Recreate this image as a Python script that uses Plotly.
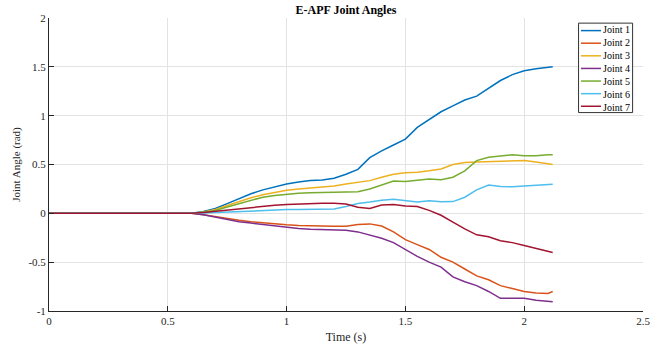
import plotly.graph_objects as go

# ---- data ----
time_s = [0, 0.6, 0.65, 0.7, 0.75, 0.8, 0.85, 0.9, 0.95, 1.0, 1.05, 1.1, 1.15, 1.2, 1.25, 1.3,
          1.35, 1.4, 1.45, 1.5, 1.55, 1.6, 1.65, 1.7, 1.75, 1.8, 1.85, 1.9, 1.95, 2.0, 2.05, 2.1, 2.12]

joint1 = [0, 0, 0.02, 0.05, 0.10, 0.15, 0.20, 0.24, 0.27, 0.30, 0.32, 0.335, 0.342, 0.36, 0.40, 0.45,
          0.57, 0.64, 0.70, 0.76, 0.88, 0.96, 1.04, 1.10, 1.16, 1.20, 1.28, 1.36, 1.42, 1.46, 1.48, 1.49, 1.50]
joint2 = [0, 0, -0.015, -0.035, -0.055, -0.07, -0.085, -0.097, -0.108, -0.118, -0.124, -0.128, -0.131, -0.133,
          -0.132, -0.115, -0.108, -0.13, -0.19, -0.27, -0.32, -0.37, -0.45, -0.50, -0.57, -0.64, -0.68, -0.74,
          -0.77, -0.80, -0.815, -0.82, -0.80]
joint3 = [0, 0, 0.015, 0.04, 0.08, 0.12, 0.16, 0.19, 0.215, 0.237, 0.25, 0.26, 0.27, 0.28, 0.30, 0.32,
          0.335, 0.37, 0.40, 0.415, 0.42, 0.435, 0.455, 0.50, 0.52, 0.525, 0.53, 0.535, 0.54, 0.54, 0.525, 0.505, 0.50]
joint4 = [0, 0, -0.015, -0.04, -0.065, -0.085, -0.10, -0.115, -0.13, -0.145, -0.155, -0.163, -0.168, -0.171,
          -0.173, -0.19, -0.22, -0.255, -0.30, -0.37, -0.44, -0.50, -0.55, -0.65, -0.70, -0.74, -0.80, -0.87,
          -0.87, -0.87, -0.89, -0.905, -0.905]
joint5 = [0, 0, 0.012, 0.03, 0.065, 0.10, 0.135, 0.165, 0.183, 0.197, 0.205, 0.21, 0.214, 0.217, 0.219, 0.22,
          0.25, 0.29, 0.33, 0.325, 0.335, 0.352, 0.345, 0.37, 0.435, 0.54, 0.575, 0.585, 0.60, 0.59, 0.59, 0.60, 0.60]
joint6 = [0, 0, 0.003, 0.008, 0.014, 0.02, 0.025, 0.03, 0.035, 0.038, 0.04, 0.042, 0.044, 0.045, 0.07, 0.10,
          0.115, 0.135, 0.145, 0.128, 0.117, 0.128, 0.118, 0.12, 0.165, 0.24, 0.29, 0.275, 0.272, 0.28, 0.29, 0.297, 0.297]
joint7 = [0, 0, 0.008, 0.02, 0.035, 0.05, 0.062, 0.075, 0.083, 0.09, 0.096, 0.10, 0.104, 0.103, 0.095, 0.062,
          0.05, 0.085, 0.09, 0.076, 0.07, 0.03, -0.02, -0.09, -0.16, -0.22, -0.24, -0.28, -0.30, -0.33, -0.36, -0.39, -0.40]

series_names = ["Joint 1", "Joint 2", "Joint 3", "Joint 4", "Joint 5", "Joint 6", "Joint 7"]
series_values = [joint1, joint2, joint3, joint4, joint5, joint6, joint7]
colors = ["#0072BD", "#D95319", "#EDB120", "#7E2F8E", "#77AC30", "#4DBEEE", "#A2142F"]

x_ticks = [0, 0.5, 1, 1.5, 2, 2.5]
x_tick_labels = ["0", "0.5", "1", "1.5", "2", "2.5"]
y_ticks = [-1, -0.5, 0, 0.5, 1, 1.5, 2]
y_tick_labels = ["-1", "-0.5", "0", "0.5", "1", "1.5", "2"]

FONT = "Liberation Serif, Times New Roman, serif"

fig = go.Figure()
for name, vals, col in zip(series_names, series_values, colors):
    fig.add_trace(go.Scatter(x=time_s, y=vals, mode="lines", name=name,
                             line=dict(color=col, width=1.5), showlegend=False))

# ---- legend box (MATLAB style, compact) ----
PW, PH = 593.4, 302.0
LEG_FONT = 10
row_px = LEG_FONT * 1.3
lx0, lx1, ly1 = 0.8915, 0.9825, 0.9825
first_row = ly1 - (7.7 / PH)
ly0 = first_row - (row_px * (len(series_names) - 1) + 6.5) / PH
shapes = [dict(type="rect", xref="paper", yref="paper", x0=lx0, x1=lx1, y0=ly0, y1=ly1,
               line=dict(color="#333333", width=1), fillcolor="white", layer="above")]
for i, col in enumerate(colors):
    yy = first_row - i * row_px / PH
    shapes.append(dict(type="line", xref="paper", yref="paper",
                       x0=lx0 + 2.4 / PW, x1=lx0 + 22.4 / PW, y0=yy, y1=yy,
                       line=dict(color=col, width=1.5), layer="above"))
mid_y = first_row - (row_px * (len(series_names) - 1) / 2) / PH
annotations = [dict(xref="paper", yref="paper", x=lx0 + 23.0 / PW, y=mid_y,
                    text="<br>".join(series_names), showarrow=False, align="left",
                    xanchor="left", yanchor="middle", borderpad=0,
                    font=dict(family=FONT, size=LEG_FONT, color="#000000"))]

fig.update_layout(
    width=667, height=354,
    margin=dict(l=49, r=24, t=16, b=36),
    paper_bgcolor="white", plot_bgcolor="white",
    font=dict(family=FONT, size=11, color="#262626"),
    title=dict(text="<b>E-APF Joint Angles</b>", x=0.5, xref="paper", xanchor="center",
               y=1, yref="paper", yanchor="bottom", pad=dict(b=4),
               font=dict(family=FONT, size=12, color="#000000")),
    shapes=shapes, annotations=annotations,
)
fig.update_xaxes(range=[0, 2.5], tickvals=x_ticks, ticktext=x_tick_labels,
                 showgrid=True, gridcolor="#e3e3e3", gridwidth=1,
                 showline=True, linecolor="#262626", linewidth=1,
                 ticks="inside", ticklen=5, tickcolor="#262626",
                 zeroline=False, mirror=False,
                 title=dict(text="Time (s)", standoff=6, font=dict(family=FONT, size=12, color="#262626")),
                 tickfont=dict(family=FONT, size=11, color="#262626"))
fig.update_yaxes(range=[-1, 2], tickvals=y_ticks, ticktext=y_tick_labels,
                 showgrid=True, gridcolor="#e3e3e3", gridwidth=1,
                 showline=True, linecolor="#262626", linewidth=1,
                 ticks="inside", ticklen=5, tickcolor="#262626",
                 zeroline=False, mirror=False,
                 title=dict(text="Joint Angle (rad)", standoff=5, font=dict(family=FONT, size=11, color="#262626")),
                 tickfont=dict(family=FONT, size=11, color="#262626"))

fig.write_html("out.html")
